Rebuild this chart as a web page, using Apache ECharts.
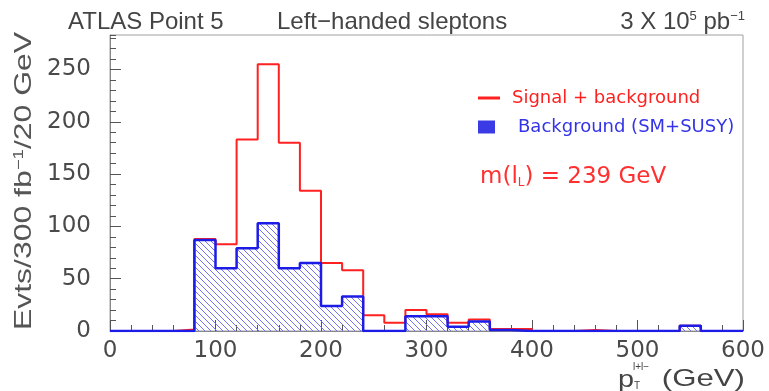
<!DOCTYPE html>
<html><head><meta charset="utf-8">
<script src="https://cdn.jsdelivr.net/npm/echarts@6/dist/echarts.min.js"></script>
<style>html,body{margin:0;padding:0;background:#fff}#c{width:769px;height:391px}</style>
</head><body><div id="c"></div>
<script>
// ---- data (20 GeV bins of p_T^{l+l-}) ----
const binLow = [0,20,40,60,80,100,120,140,160,180,200,220,240,260,280,300,320,340,360,380,400,420,440,460,480,500,520,540,560,580];
const binHigh = 600;
const signalPlusBackground = [0,0,0,1.5,88,83,183,255,180,134,65,58,15,8,20,16,8,11,2,2,0,0,1,0,0,0,0,5,0,0];
const background = [0,0,0,0,87,60,79,103,60,65,24,33,0,0,14,14,4,9,1,0,0,0,0,0,0,0,0,5,0,0];
const xTickLabels = [0,100,200,300,400,500,600];
const yTickLabels = [0,50,100,150,200,250];
const legendNames = ['Signal + background','Background (SM+SUSY)'];

// ---- styles ----
const RED = '#ff2020', BLUE = '#1c1ce6', TXT = '#4a4a4a';
function hatch() {
  const cv = document.createElement('canvas');
  cv.width = 6; cv.height = 6;
  const c = cv.getContext('2d');
  c.strokeStyle = '#7373ef'; c.lineWidth = 1;
  c.beginPath();
  c.moveTo(-1,-1); c.lineTo(7,7);
  c.moveTo(-1,5); c.lineTo(1,7);
  c.moveTo(5,-1); c.lineTo(7,1);
  c.stroke();
  return cv;
}
const steps = vals => binLow.map((x,i)=>[x, vals[i]]).concat([[binHigh, vals[vals.length-1]]]);

const chart = echarts.init(document.getElementById('c'), null, {renderer:'canvas', width:769, height:391});
const tickFont = {fontFamily:'DejaVu Sans', fontSize:23, color:TXT};
chart.setOption({
  animation:false,
  backgroundColor:'#fff',
  grid:{left:110, right:26, top:35, bottom:60, show:true, borderColor:'#a0a0a0', borderWidth:1, containLabel:false, outerBoundsMode:'none'},
  xAxis:[{
    type:'value', min:0, max:600, interval:100,
    axisLine:{lineStyle:{color:'#888', width:1}},
    axisTick:{inside:true, length:11, lineStyle:{color:'#555'}},
    minorTick:{show:true, splitNumber:5, length:6, lineStyle:{color:'#555'}},
    splitLine:{show:false},
    axisLabel:Object.assign({margin:9, formatter:v=>xTickLabels.includes(v)?String(v):''}, tickFont)
  }],
  yAxis:[{
    type:'value', min:0, max:283, interval:50,
    axisLine:{show:true, lineStyle:{color:'#888', width:1}},
    axisTick:{show:true, inside:true, length:11, lineStyle:{color:'#555'}},
    splitLine:{show:false},
    axisLabel:Object.assign({margin:19, showMaxLabel:false, formatter:v=>yTickLabels.includes(v)?String(v):''}, tickFont)
  },{
    type:'value', min:0, max:283, interval:10, position:'left', offset:0,
    axisLine:{show:false},
    axisTick:{show:true, inside:true, length:6, lineStyle:{color:'#555'}},
    axisLabel:{show:false}, splitLine:{show:false}
  }],
  legend:[{
    data:[{name:legendNames[0], icon:'rect', itemStyle:{color:RED}}],
    left:478, top:89, padding:0, itemWidth:22, itemHeight:3,
    textStyle:{color:RED, fontFamily:'DejaVu Sans', fontSize:18, padding:[0,0,11,7]},
    selectedMode:false
  },{
    data:[{name:legendNames[1], icon:'rect', itemStyle:{color:'#3b3be6'}}],
    left:478, top:118, padding:0, itemWidth:17, itemHeight:13,
    textStyle:{color:'#3434e6', fontFamily:'DejaVu Sans', fontSize:18, padding:[0,0,0,18]},
    selectedMode:false
  }],
  series:[{
    name:legendNames[0], type:'line', step:'end', data:steps(signalPlusBackground),
    xAxisIndex:0, yAxisIndex:0, symbol:'none', color:RED,
    lineStyle:{color:RED, width:2}, z:2
  },{
    name:legendNames[1], type:'line', step:'end', data:steps(background),
    xAxisIndex:0, yAxisIndex:0, symbol:'none', color:BLUE,
    lineStyle:{color:BLUE, width:2.5},
    areaStyle:{color:{image:hatch(), repeat:'repeat'}, opacity:1},
    z:3
  }],
  graphic:[
    {type:'text', x:68, y:22, style:{text:'ATLAS Point 5', fontFamily:'Liberation Sans', fontSize:24, fill:'#444', verticalAlign:'middle'}},
    {type:'text', x:277, y:22, style:{text:'Left\u2212handed sleptons', fontFamily:'Liberation Sans', fontSize:24, fill:'#444', verticalAlign:'middle'}},
    {type:'text', x:745, y:22, style:{text:'3 X 10{s|5} pb{s|\u22121}', fontFamily:'Liberation Sans', fontSize:24, fill:'#444', align:'right', verticalAlign:'middle',
      rich:{s:{fontSize:13, fontFamily:'Liberation Sans', verticalAlign:'top', fill:'#444'}}}},
    {type:'text', x:24, y:181, rotation:Math.PI/2, scaleX:1.33,
      style:{text:'Evts/300 fb{s|\u22121}/20 GeV', fontFamily:'Liberation Sans', fontSize:24, fill:'#555', align:'center', verticalAlign:'middle',
      rich:{s:{fontSize:14, fontFamily:'Liberation Sans', verticalAlign:'top', fill:'#555'}}}},
    {type:'text', x:618, y:380, scaleX:1.2, style:{text:'p', fontFamily:'Liberation Sans', fontSize:24, fill:'#444', verticalAlign:'middle'}},
    {type:'text', x:634, y:386, style:{text:'T', fontFamily:'Liberation Sans', fontSize:10, fill:'#444', verticalAlign:'middle'}},
    {type:'text', x:633, y:367, style:{text:'l+l\u2212', fontFamily:'Liberation Sans', fontSize:10, fill:'#444', verticalAlign:'middle'}},
    {type:'text', x:745, y:379, scaleX:1.3, style:{text:'(GeV)', fontFamily:'Liberation Sans', fontSize:24, fill:'#444', align:'right', verticalAlign:'middle'}},
    {type:'text', x:480, y:177, style:{text:'m(l{b|L}) = 239 GeV', fontFamily:'DejaVu Sans', fontSize:23, fill:'#ff3030', verticalAlign:'middle',
      rich:{b:{fontSize:12, fontFamily:'DejaVu Sans', verticalAlign:'bottom', fill:'#ff3030', padding:[10,0,0,0]}}}}
  ]
});
</script>
</body></html>
